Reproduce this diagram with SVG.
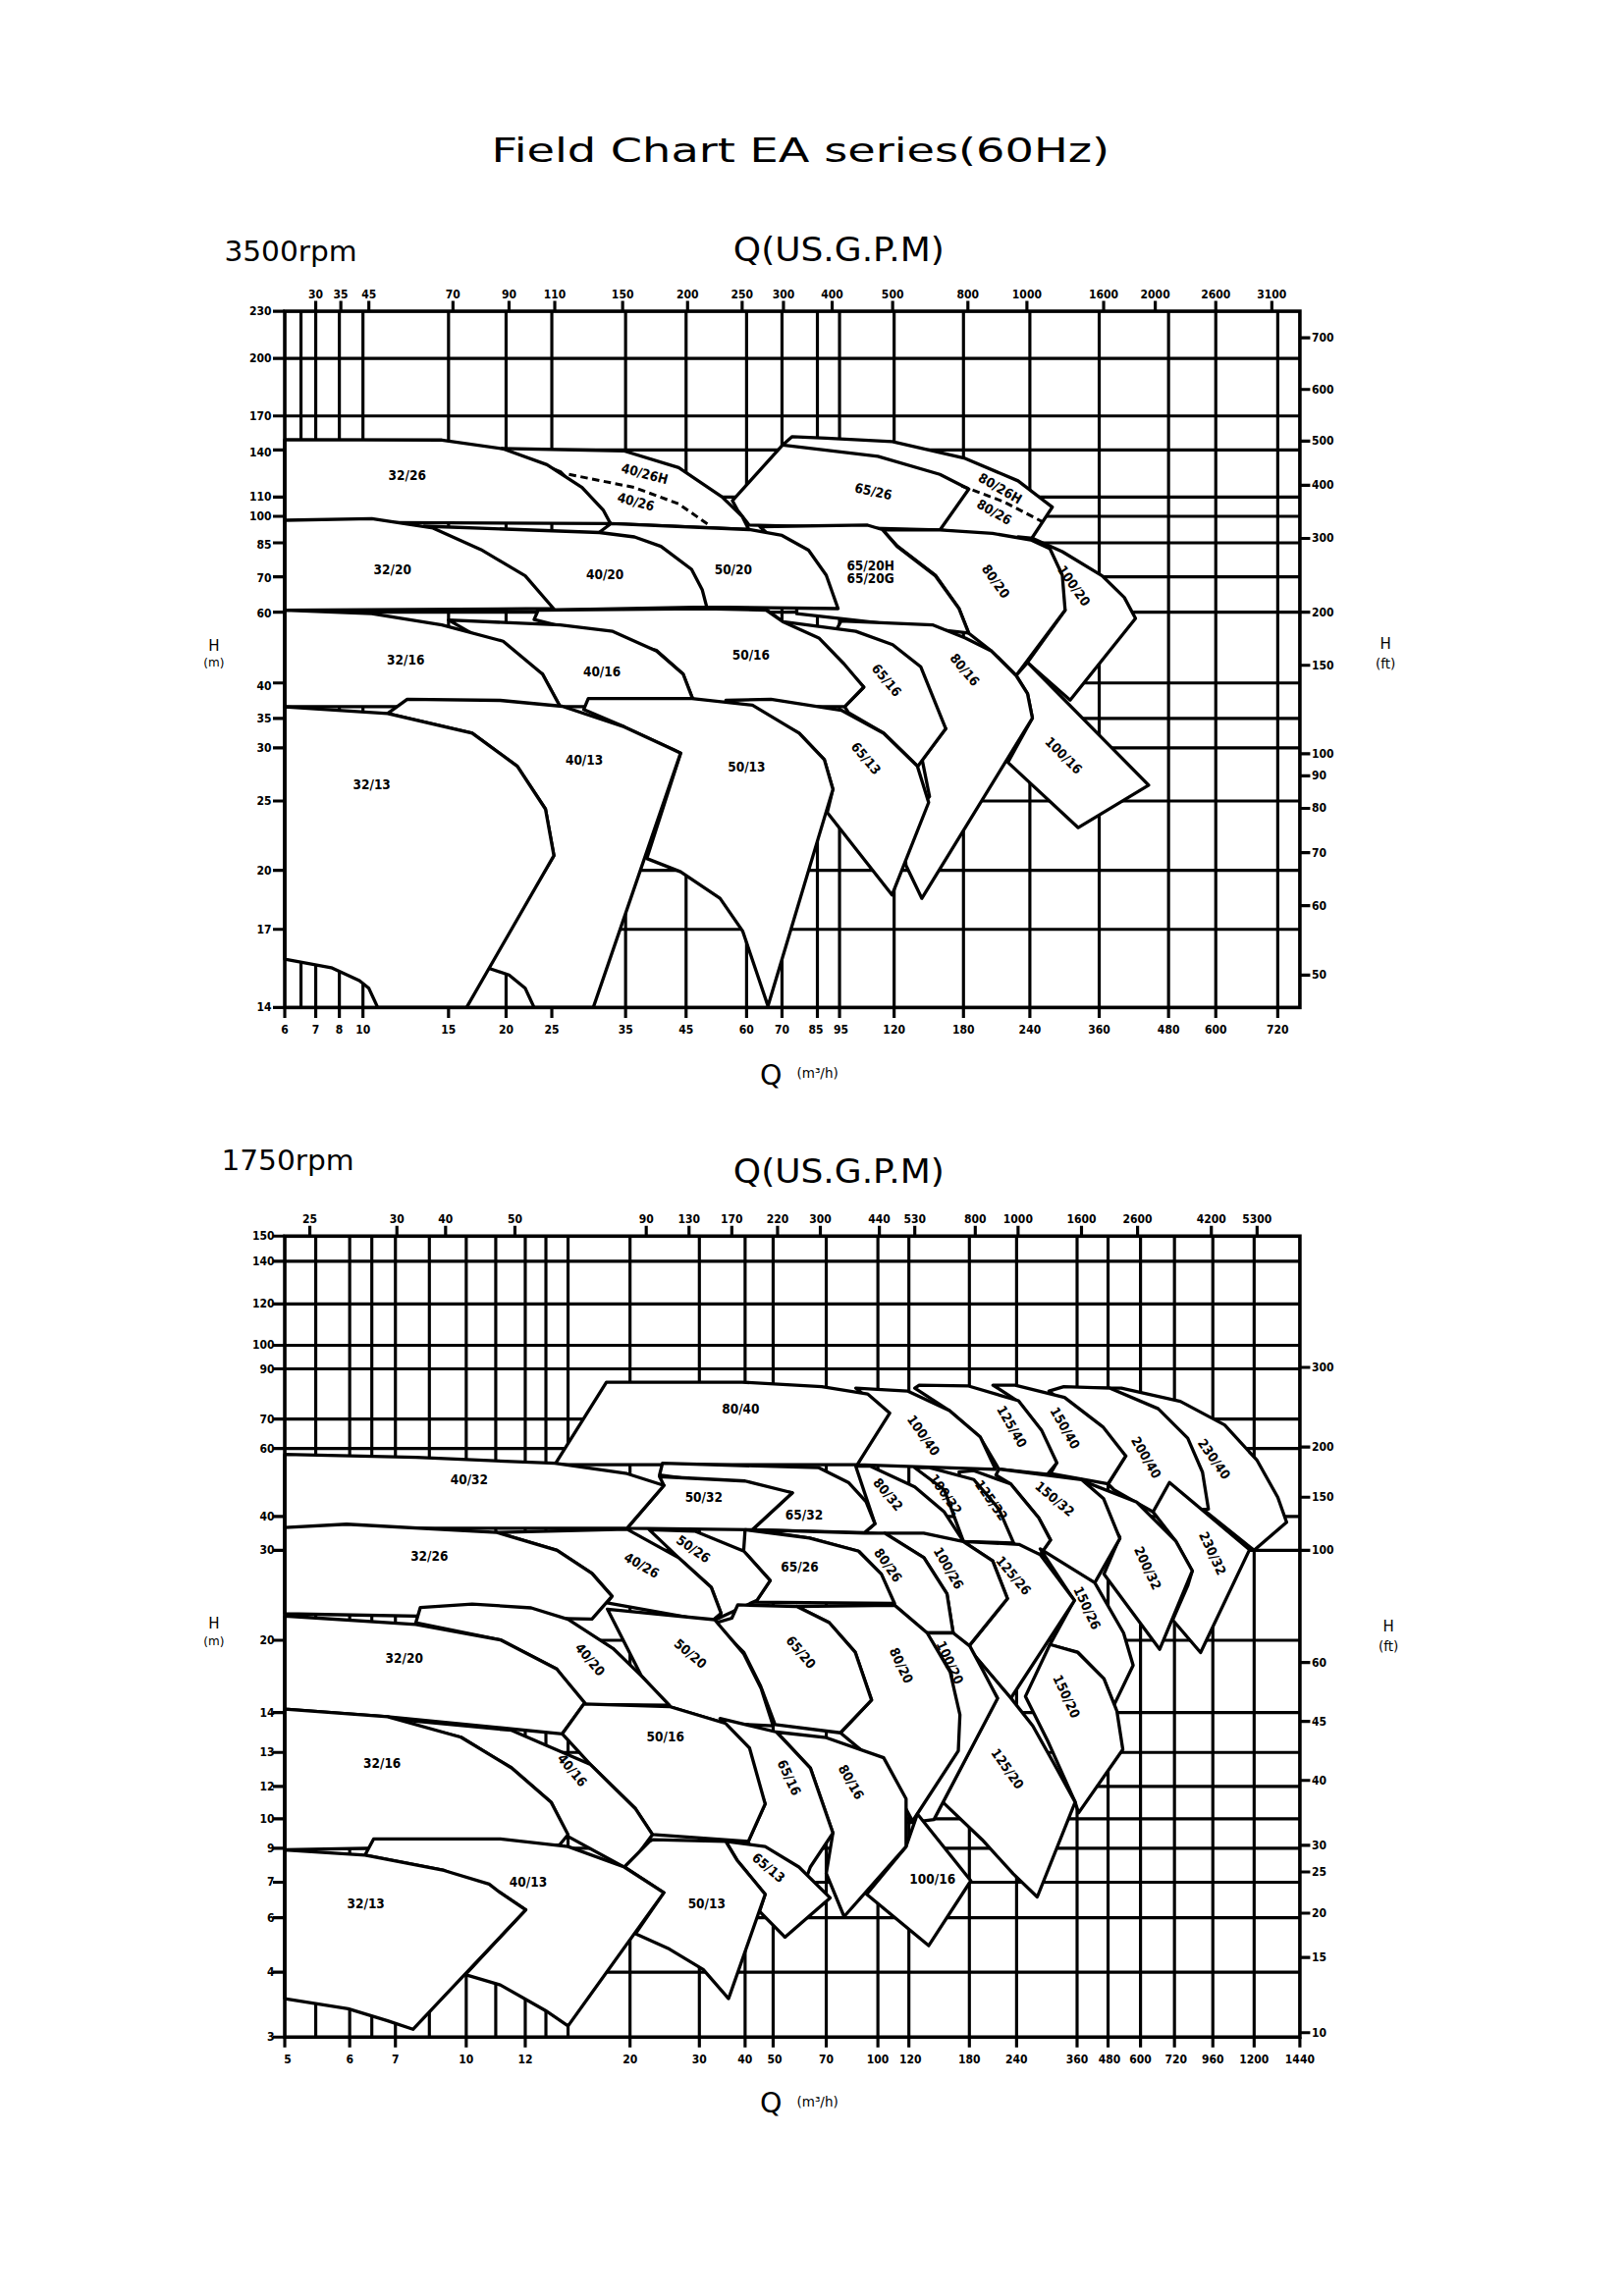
<svg xmlns="http://www.w3.org/2000/svg" width="1653" height="2339" viewBox="0 0 1653 2339">
<style>
.g{fill:none;stroke:#000;stroke-width:2.1}
.f{fill:none;stroke:#000;stroke-width:2.4}
.r{fill:#fff;stroke:#000;stroke-width:2.2;stroke-linejoin:round}
.l{fill:none;stroke:#000;stroke-width:2.2;stroke-linejoin:round}
.d{fill:none;stroke:#000;stroke-width:2;stroke-dasharray:5,3}
.lb{font-family:"DejaVu Sans Condensed","Liberation Sans Narrow","DejaVu Sans",sans-serif;font-weight:bold;font-size:9px;text-anchor:middle;dominant-baseline:central}
.tk{font-family:"DejaVu Sans Condensed","Liberation Sans Narrow","DejaVu Sans",sans-serif;font-weight:bold;font-size:8px;text-anchor:middle}
.tl{font-family:"DejaVu Sans Condensed","Liberation Sans Narrow","DejaVu Sans",sans-serif;font-weight:bold;font-size:8px;text-anchor:end;dominant-baseline:central}
.tr{font-family:"DejaVu Sans Condensed","Liberation Sans Narrow","DejaVu Sans",sans-serif;font-weight:bold;font-size:8px;text-anchor:start;dominant-baseline:central}
.h{font-family:"DejaVu Sans","Liberation Sans",sans-serif;font-weight:normal}
</style>
<rect width="1653" height="2339" fill="#fff"/>
<g transform="scale(1.50273)">
<text class="h" x="333" y="110" font-size="23" textLength="419" lengthAdjust="spacingAndGlyphs">Field Chart EA series(60Hz)</text>

<!-- ============ TOP CHART ============ -->
<g id="top-chart">
<text class="h" x="152" y="177" font-size="19" textLength="90" lengthAdjust="spacingAndGlyphs">3500rpm</text>
<text class="h" x="497" y="177" font-size="22" textLength="143" lengthAdjust="spacingAndGlyphs">Q(US.G.P.M)</text>
<text class="h" x="145" y="441" font-size="10" text-anchor="middle">H</text>
<text class="h" x="145" y="452" font-size="8" text-anchor="middle">(m)</text>
<text class="h" x="939" y="440" font-size="10" text-anchor="middle">H</text>
<text class="h" x="939" y="453" font-size="9" text-anchor="middle">(ft)</text>
<text class="h" x="515" y="735" font-size="19">Q</text>
<text class="h" x="540" y="731" font-size="9">(m³/h)</text>

<g id="top-grid">
<path class="g" d="M193,243H881M193,282H881M193,305H881M193,337H881M193,350H881M193,368H881M193,391H881M193,415H881M193,463H881M193,487H881M193,507H881M193,543H881M193,590H881M193,630H881"/>
<path class="g" d="M204,211V683M214,211V683M230,211V683M246,211V683M304,211V683M343,211V683M374,211V683M424,211V683M465,211V683M506,211V683M530,211V683M554,211V683M569,211V683M606,211V683M653,211V683M698,211V683M745,211V683M792,211V683M824,211V683M866,211V683"/>
<path class="g" d="M214,204V211M231,204V211M250,204V211M307,204V211M345,204V211M376,204V211M422,204V211M466,204V211M503,204V211M531,204V211M564,204V211M605,204V211M656,204V211M696,204V211M748,204V211M783,204V211M824,204V211M862,204V211"/>
<path class="g" d="M193,683V690M214,683V690M230,683V690M246,683V690M304,683V690M343,683V690M374,683V690M424,683V690M465,683V690M506,683V690M530,683V690M554,683V690M569,683V690M606,683V690M653,683V690M698,683V690M745,683V690M792,683V690M824,683V690M866,683V690"/>
<path class="g" d="M185,211H193M185,243H193M185,282H193M185,305H193M185,337H193M185,350H193M185,368H193M185,391H193M185,415H193M185,463H193M185,487H193M185,507H193M185,543H193M185,590H193M185,630H193M185,683H193"/>
<path class="g" d="M881,229H888M881,264H888M881,299H888M881,329H888M881,365H888M881,415H888M881,451H888M881,511H888M881,526H888M881,548H888M881,578H888M881,614H888M881,661H888"/>
</g>
<g id="top-axis-labels">
<text class="tk" x="214" y="202">30</text><text class="tk" x="231" y="202">35</text><text class="tk" x="250" y="202">45</text><text class="tk" x="307" y="202">70</text><text class="tk" x="345" y="202">90</text><text class="tk" x="376" y="202">110</text><text class="tk" x="422" y="202">150</text><text class="tk" x="466" y="202">200</text><text class="tk" x="503" y="202">250</text><text class="tk" x="531" y="202">300</text><text class="tk" x="564" y="202">400</text><text class="tk" x="605" y="202">500</text><text class="tk" x="656" y="202">800</text><text class="tk" x="696" y="202">1000</text><text class="tk" x="748" y="202">1600</text><text class="tk" x="783" y="202">2000</text><text class="tk" x="824" y="202">2600</text><text class="tk" x="862" y="202">3100</text>
<text class="tk" x="193" y="701">6</text><text class="tk" x="214" y="701">7</text><text class="tk" x="230" y="701">8</text><text class="tk" x="246" y="701">10</text><text class="tk" x="304" y="701">15</text><text class="tk" x="343" y="701">20</text><text class="tk" x="374" y="701">25</text><text class="tk" x="424" y="701">35</text><text class="tk" x="465" y="701">45</text><text class="tk" x="506" y="701">60</text><text class="tk" x="530" y="701">70</text><text class="tk" x="553" y="701">85</text><text class="tk" x="570" y="701">95</text><text class="tk" x="606" y="701">120</text><text class="tk" x="653" y="701">180</text><text class="tk" x="698" y="701">240</text><text class="tk" x="745" y="701">360</text><text class="tk" x="792" y="701">480</text><text class="tk" x="824" y="701">600</text><text class="tk" x="866" y="701">720</text>
<text class="tl" x="184" y="211">230</text><text class="tl" x="184" y="243">200</text><text class="tl" x="184" y="282">170</text><text class="tl" x="184" y="307">140</text><text class="tl" x="184" y="337">110</text><text class="tl" x="184" y="350">100</text><text class="tl" x="184" y="369">85</text><text class="tl" x="184" y="392">70</text><text class="tl" x="184" y="416">60</text><text class="tl" x="184" y="465">40</text><text class="tl" x="184" y="487">35</text><text class="tl" x="184" y="507">30</text><text class="tl" x="184" y="543">25</text><text class="tl" x="184" y="590">20</text><text class="tl" x="184" y="630">17</text><text class="tl" x="184" y="683">14</text>
<text class="tr" x="889" y="229">700</text><text class="tr" x="889" y="264">600</text><text class="tr" x="889" y="299">500</text><text class="tr" x="889" y="329">400</text><text class="tr" x="889" y="365">300</text><text class="tr" x="889" y="415">200</text><text class="tr" x="889" y="451">150</text><text class="tr" x="889" y="511">100</text><text class="tr" x="889" y="526">90</text><text class="tr" x="889" y="548">80</text><text class="tr" x="889" y="578">70</text><text class="tr" x="889" y="614">60</text><text class="tr" x="889" y="661">50</text>
</g>

<g id="t-80-65-26"><path class="r" d="M536.9,296 L560,297 L604.8,299.4 L653.3,310.5 L690,326 L713.2,343.8 L698.6,366 L637,359.3 L507.8,356 L500,346 L496.4,339.4 L530.4,301.7 Z"/>
<path class="l" d="M530.4,301.7 L595,309.4 L637,321.6 L656.6,331.6 L637,359.3"/><path class="d" d="M651.7,329.4 L680,340 L706.7,353.8"/></g>
<g id="t-40-26"><path class="r" d="M340,304 L422.7,305.6 L460,317 L489.5,337 L503,350 L507.5,359 L414,355 L380,320 Z"/><path class="d" d="M385.6,321.6 L430,330.5 L460,341.6 L480.6,356"/></g>
<g id="t-32-26"><path class="r" d="M193,298 L299.5,298.3 L341,304.3 L370.7,315 L394.5,330.5 L409,346 L413.8,355 L193,354 Z"/></g>

<g id="t-100-20"><path class="r" d="M690,364 L700,365 L720,374 L747,390.4 L762,405 L769.6,419.2 L725.3,474.6 L696.4,449.1 L721.9,413.6 Z"/></g>
<g id="t-80-20"><path class="r" d="M637,359.3 L672.7,361.6 L698.6,366 L711.6,372 L720,390 L721.9,413.6 L688.7,458 L672,441.4 L656.5,429.2 L650,412.6 L634,390 L608,370 L598,359 Z"/></g>
<g id="t-65-20"><path class="r" d="M515,357 L588,356 L598,359 L608,370.4 L634,390.4 L650,412.6 L656.5,429.2 L540,416 L540,380 Z"/></g>
<g id="t-50-20"><path class="r" d="M406,361 L414,355 L507.8,359 L530,363 L548,373 L560,390 L568,412.6 L479,411.5 L450,380 Z"/></g>
<g id="t-40-20"><path class="r" d="M287.5,356.7 L406.3,361 L430,364 L448,370.4 L468.7,386 L476,400 L479,411.5 L364.8,413.6 L330,380 Z"/></g>
<g id="t-32-20"><path class="r" d="M193,352.7 L252,351.6 L293.5,358 L326,372.6 L356,390.4 L375.2,412.6 L193,413.6 Z"/></g>

<g id="t-100-16"><path class="r" d="M696.4,449.1 L778.5,532.3 L730.8,561.1 L683.1,516.8 L699.7,486.8 L696.4,470.2 L688.7,458 Z"/></g>
<g id="t-80-16"><path class="r" d="M570,421 L632,423.6 L654.3,432.5 L672,441.4 L688.7,458 L696.4,470.2 L699.7,486.8 L624.8,609 L614,586.6 L612,560 L630,540 L625,515 L641,494 L600,460 L560,440 Z"/></g>
<g id="t-65-16"><path class="r" d="M519,413 L527,421 L580,428 L605,437 L624,452 L641,494 L622,519.5 L599,497 L575,483 L572.5,479 L585.4,465.8 L562.7,441 L530,421 Z"/></g>
<g id="t-50-16"><path class="r" d="M362,420 L364.8,413.6 L477.5,412.6 L519.3,413.6 L530.4,421.4 L555,432.5 L572,450 L585.4,465.8 L572.5,479 L471.5,479 L463,457 L445,441 Z"/></g>
<g id="t-40-16"><path class="r" d="M304,420.3 L379.6,423.7 L415.3,428 L445,441.4 L463,457 L471.5,479 L379.6,479 L367.7,457 Z"/></g>
<g id="t-32-16"><path class="r" d="M193,413.6 L252,416 L299.5,423.7 L341,434.7 L367.7,457 L379.6,479 L193,479 Z"/></g>

<g id="t-65-13"><path class="r" d="M492,474.8 L522.5,474 L570.2,481.5 L598.9,497.1 L621.8,519.5 L629.4,544 L604.6,606.7 L560.7,550.8 L564.5,535 L558.7,515 L541.6,497 L510,480 Z"/></g>
<g id="t-50-13"><path class="r" d="M395.6,481 L398.7,473.6 L469,473.6 L510,478 L541.6,497 L558.7,515 L564.5,535.1 L520.5,682 L503.4,631.3 L488,609 L461.3,591 L438.4,582 L461.3,510.5 L423,492.7 Z"/></g>
<g id="t-40-13"><path class="r" d="M262.7,483.7 L276,474 L339,474.8 L381,478.8 L423,492.7 L461.3,510.5 L402.1,683 L362,683 L356,670 L345,661 L330,656 L375.4,580 L369.7,548.5 L350.6,519.5 L320,497 Z"/></g>
<g id="t-32-13"><path class="r" d="M193,479.2 L262.7,483.7 L320,497 L350.6,519.5 L369.7,548.5 L375.4,580 L316.2,683 L256,683 L250,670 L243.6,664.8 L224.5,656 L193,650.3 Z"/></g>
<rect class="f" x="193" y="211" width="688" height="472"/>

<g id="top-labels">
<text class="lb" x="276" y="322">32/26</text>
<text class="lb" x="437" y="321" transform="rotate(15 437 321)">40/26H</text>
<text class="lb" x="431" y="340" transform="rotate(15 431 340)">40/26</text>
<text class="lb" x="592" y="333" transform="rotate(12 592 333)">65/26</text>
<text class="lb" x="678" y="331" transform="rotate(30 678 331)">80/26H</text>
<text class="lb" x="674" y="347" transform="rotate(30 674 347)">80/26</text>
<text class="lb" x="266" y="386">32/20</text>
<text class="lb" x="410" y="389">40/20</text>
<text class="lb" x="497" y="386">50/20</text>
<text class="lb" x="590" y="383">65/20H</text>
<text class="lb" x="590" y="392">65/20G</text>
<text class="lb" x="675" y="394" transform="rotate(55 675 394)">80/20</text>
<text class="lb" x="728" y="397" transform="rotate(55 728 397)">100/20</text>
<text class="lb" x="275" y="447">32/16</text>
<text class="lb" x="408" y="455">40/16</text>
<text class="lb" x="509" y="444">50/16</text>
<text class="lb" x="601" y="461" transform="rotate(50 601 461)">65/16</text>
<text class="lb" x="654" y="454" transform="rotate(50 654 454)">80/16</text>
<text class="lb" x="721" y="512" transform="rotate(45 721 512)">100/16</text>
<text class="lb" x="252" y="532">32/13</text>
<text class="lb" x="396" y="515">40/13</text>
<text class="lb" x="506" y="520">50/13</text>
<text class="lb" x="587" y="514" transform="rotate(50 587 514)">65/13</text>
</g>
</g>

<!-- ============ BOTTOM CHART ============ -->
<g id="bottom-chart">
<text class="h" x="150" y="793" font-size="19" textLength="90" lengthAdjust="spacingAndGlyphs">1750rpm</text>
<text class="h" x="497" y="802" font-size="22" textLength="143" lengthAdjust="spacingAndGlyphs">Q(US.G.P.M)</text>
<text class="h" x="145" y="1104" font-size="10" text-anchor="middle">H</text>
<text class="h" x="145" y="1115" font-size="8" text-anchor="middle">(m)</text>
<text class="h" x="941" y="1106" font-size="10" text-anchor="middle">H</text>
<text class="h" x="941" y="1119" font-size="9" text-anchor="middle">(ft)</text>
<text class="h" x="515" y="1432" font-size="19">Q</text>
<text class="h" x="540" y="1428" font-size="9">(m³/h)</text>

<g id="bottom-grid">
<path class="g" d="M193,855H881M193,884H881M193,912H881M193,928H881M193,962H881M193,982H881M193,1028H881M193,1051H881M193,1112H881M193,1161H881M193,1188H881M193,1211H881M193,1233H881M193,1253H881M193,1276H881M193,1300H881M193,1337H881"/>
<path class="g" d="M214,838V1381M237,838V1381M252,838V1381M268,838V1381M291,838V1381M316,838V1381M336,838V1381M356,838V1381M370,838V1381M385,838V1381M427,838V1381M474,838V1381M505,838V1381M524,838V1381M560,838V1381M595,838V1381M616,838V1381M657,838V1381M689,838V1381M730,838V1381M751,838V1381M773,838V1381M796,838V1381M822,838V1381M850,838V1381"/>
<path class="g" d="M210,831V838M269,831V838M302,831V838M349,831V838M438,831V838M467,831V838M496,831V838M527,831V838M556,831V838M596,831V838M620,831V838M661,831V838M690,831V838M733,831V838M771,831V838M821,831V838M852,831V838"/>
<path class="g" d="M193,1381V1388M237,1381V1388M268,1381V1388M316,1381V1388M356,1381V1388M427,1381V1388M474,1381V1388M505,1381V1388M524,1381V1388M560,1381V1388M595,1381V1388M616,1381V1388M657,1381V1388M689,1381V1388M730,1381V1388M751,1381V1388M773,1381V1388M796,1381V1388M822,1381V1388M850,1381V1388M881,1381V1388"/>
<path class="g" d="M185,838H193M185,855H193M185,884H193M185,912H193M185,928H193M185,962H193M185,982H193M185,1028H193M185,1051H193M185,1112H193M185,1161H193M185,1188H193M185,1211H193M185,1233H193M185,1253H193M185,1276H193M185,1300H193M185,1337H193M185,1381H193"/>
<path class="g" d="M881,927H888M881,981H888M881,1015H888M881,1051H888M881,1127H888M881,1167H888M881,1207H888M881,1251H888M881,1269H888M881,1297H888M881,1327H888M881,1378H888"/>
</g>
<g id="bottom-axis-labels">
<text class="tk" x="210" y="829">25</text><text class="tk" x="269" y="829">30</text><text class="tk" x="302" y="829">40</text><text class="tk" x="349" y="829">50</text><text class="tk" x="438" y="829">90</text><text class="tk" x="467" y="829">130</text><text class="tk" x="496" y="829">170</text><text class="tk" x="527" y="829">220</text><text class="tk" x="556" y="829">300</text><text class="tk" x="596" y="829">440</text><text class="tk" x="620" y="829">530</text><text class="tk" x="661" y="829">800</text><text class="tk" x="690" y="829">1000</text><text class="tk" x="733" y="829">1600</text><text class="tk" x="771" y="829">2600</text><text class="tk" x="821" y="829">4200</text><text class="tk" x="852" y="829">5300</text>
<text class="tk" x="195" y="1399">5</text><text class="tk" x="237" y="1399">6</text><text class="tk" x="268" y="1399">7</text><text class="tk" x="316" y="1399">10</text><text class="tk" x="356" y="1399">12</text><text class="tk" x="427" y="1399">20</text><text class="tk" x="474" y="1399">30</text><text class="tk" x="505" y="1399">40</text><text class="tk" x="525" y="1399">50</text><text class="tk" x="560" y="1399">70</text><text class="tk" x="595" y="1399">100</text><text class="tk" x="617" y="1399">120</text><text class="tk" x="657" y="1399">180</text><text class="tk" x="689" y="1399">240</text><text class="tk" x="730" y="1399">360</text><text class="tk" x="752" y="1399">480</text><text class="tk" x="773" y="1399">600</text><text class="tk" x="797" y="1399">720</text><text class="tk" x="822" y="1399">960</text><text class="tk" x="850" y="1399">1200</text><text class="tk" x="881" y="1399">1440</text>
<text class="tl" x="186" y="838">150</text><text class="tl" x="186" y="855">140</text><text class="tl" x="186" y="884">120</text><text class="tl" x="186" y="912">100</text><text class="tl" x="186" y="928">90</text><text class="tl" x="186" y="962">70</text><text class="tl" x="186" y="982">60</text><text class="tl" x="186" y="1028">40</text><text class="tl" x="186" y="1051">30</text><text class="tl" x="186" y="1112">20</text><text class="tl" x="186" y="1161">14</text><text class="tl" x="186" y="1188">13</text><text class="tl" x="186" y="1211">12</text><text class="tl" x="186" y="1233">10</text><text class="tl" x="186" y="1253">9</text><text class="tl" x="186" y="1276">7</text><text class="tl" x="186" y="1300">6</text><text class="tl" x="186" y="1337">4</text><text class="tl" x="186" y="1381">3</text>
<text class="tr" x="889" y="927">300</text><text class="tr" x="889" y="981">200</text><text class="tr" x="889" y="1015">150</text><text class="tr" x="889" y="1051">100</text><text class="tr" x="889" y="1127">60</text><text class="tr" x="889" y="1167">45</text><text class="tr" x="889" y="1207">40</text><text class="tr" x="889" y="1251">30</text><text class="tr" x="889" y="1269">25</text><text class="tr" x="889" y="1297">20</text><text class="tr" x="889" y="1327">15</text><text class="tr" x="889" y="1378">10</text>
</g>

<g id="b-230-40"><path class="r" d="M740,941 L760,941 L800,950 L830,966 L852,990 L866,1015 L872,1032 L850,1051 L792.6,1005 L760,990 Z"/></g>
<g id="b-200-40"><path class="r" d="M711,943 L721,940 L752,941 L785,955 L805,975 L815,998 L819,1023 L781.5,1025 L755,1010 L751,1006 L763,987 Z"/></g>
<g id="b-150-40"><path class="r" d="M673,939 L688,939 L721.5,947.4 L747.5,967.3 L763,987 L751,1006 L712,999 L716,992 L705,969 L690,950 Z"/></g>
<g id="b-125-40"><path class="r" d="M620,941 L623,939 L656.5,939.6 L690.3,949.6 L705.9,969.5 L716.3,991.7 L709.8,999.5 L677,996 L664,974 L643,956 Z"/></g>
<g id="b-100-40"><path class="r" d="M580,941 L615,943 L643.5,956.2 L664.3,974 L674.7,996.1 L581,993 L600,958 Z"/></g>
<g id="b-80-40"><path class="r" d="M411,937 L503,937 L557,940 L588,945 L603,958 L581,993 L376,993 Z"/></g>

<g id="b-230-32"><path class="r" d="M792.6,1005 L846.9,1050.5 L813.7,1120.3 L794.8,1098.2 L805,1075 L808,1065 L797,1045 L781.5,1025 Z"/></g>
<g id="b-200-32"><path class="r" d="M733.8,1003.9 L770.4,1018.3 L797,1044.9 L808.1,1064.9 L786,1118.1 L748.2,1067.1 L759,1042 Z"/></g>
<g id="b-150-32"><path class="r" d="M675,1000 L677,996 L733,1003 L748,1016 L759,1043 L742,1073 L705,1054 L712,1044 L704,1029 L685,1006 Z"/></g>
<g id="b-125-32"><path class="r" d="M650,998 L660,997 L685,1006 L704,1029 L712,1044 L705,1054 L688,1047 L660,1045 Z"/></g>
<g id="b-100-32"><path class="r" d="M620,995 L630,995 L660,1003 L677,1023 L687,1046 L653,1045 L640,1010 Z"/></g>
<g id="b-80-32"><path class="r" d="M580,994 L590,994 L620,1008 L640,1025 L653,1045 L586,1039 L593,1033 Z"/></g>
<g id="b-65-32"><path class="r" d="M447,1000 L449,992 L555,995 L575,1005 L587,1018 L593,1033 L586,1039 L510,1037 L537,1012 Z"/></g>
<g id="b-50-32"><path class="r" d="M447,1001 L505,1004 L537,1012 L510,1037 L425,1036 L450,1007 Z"/></g>
<g id="b-40-32"><path class="r" d="M193,986 L282,988 L376,992 L425,999 L450,1007 L425,1036 L193,1036 Z"/></g>

<g id="b-150-26"><path class="r" d="M705,1050 L742,1073 L761.5,1107 L768,1129 L755,1156 L748,1138 L730.5,1120 L711.6,1115 L728,1085 Z"/></g>
<g id="b-125-26"><path class="r" d="M652.8,1045 L690.6,1047 L705,1054 L728.3,1085 L685,1151.4 L656,1117 L682.8,1083.7 L672.8,1058.2 Z"/></g>
<g id="b-100-26"><path class="r" d="M599.6,1039.4 L626,1039.4 L652.8,1045 L672.8,1058.2 L682.8,1083.7 L655,1118 L646,1107 L641.8,1080.4 L626.2,1056 Z"/></g>
<g id="b-80-26"><path class="r" d="M510,1037 L586,1039.4 L599.6,1039.4 L626.2,1056 L641.8,1080.4 L646,1107 L628,1107 L606,1088 L597,1067 L582,1051.6 L548.6,1042.7 Z"/></g>
<g id="b-65-26"><path class="r" d="M505,1037 L548.6,1042.7 L581.9,1051.6 L597.4,1067.1 L606.3,1087 L502,1086 L513,1084.8 L522,1071.5 L504,1051.6 Z"/></g>
<g id="b-50-26"><path class="r" d="M440,1037 L470.9,1038 L504.2,1051.6 L522,1071.5 L513.1,1084.8 L485,1098 L488.7,1093.7 L482,1076 L459.9,1056 Z"/></g>
<g id="b-40-26"><path class="r" d="M336.7,1038.9 L425,1036.7 L459.9,1056 L482,1076 L488.7,1093.7 L482,1099.3 L411.4,1086.6 L414.8,1082.1 L401.2,1066.6 L377.5,1051 Z"/></g>
<g id="b-32-26"><path class="r" d="M193,1035.5 L234.9,1033.3 L336.7,1038.9 L377.5,1051 L401.2,1066.6 L414.8,1082.1 L401.2,1097.6 L193,1094 Z"/></g>

<g id="b-150-20"><path class="r" d="M711.6,1114.8 L730.5,1120.3 L748.2,1138 L757,1160 L761,1186 L731,1229 L728.7,1221.7 L710,1180 L695,1150 Z"/></g>
<g id="b-125-20"><path class="r" d="M656,1117 L685,1151 L700,1170 L714,1195 L728.7,1221.7 L703,1286 L686.7,1270.3 L665.7,1247.2 L639,1221.7 L676,1151 Z"/></g>
<g id="b-100-20"><path class="r" d="M646,1107 L657.3,1115.9 L666,1132 L676.1,1151.4 L633,1233.5 L616,1235.6 L646.6,1190.4 L644.7,1133.7 L628,1107 Z"/></g>
<g id="b-80-20"><path class="r" d="M540,1089 L606.3,1088.2 L628.4,1107 L644,1133.6 L650.6,1162.5 L649.5,1186.9 L618.5,1234.6 L600,1200 L569.6,1174.7 L590.7,1152.5 L579.6,1120 L562,1100 Z"/></g>
<g id="b-65-20"><path class="r" d="M496,1097 L500,1088 L540,1089 L562,1100 L579.6,1120 L590.7,1152.5 L569.6,1174.7 L525.3,1169.1 L515.3,1142.5 L504.2,1120.3 L484.3,1100.4 Z"/></g>
<g id="b-50-20"><path class="r" d="M411.7,1090.9 L484.3,1098 L504,1121 L516,1145 L524,1170 L491.9,1168.4 L453.7,1156.9 L434.6,1136 Z"/></g>
<g id="b-40-20"><path class="r" d="M281.8,1100.1 L284.9,1089.7 L320,1087.4 L360,1090 L385,1097.8 L415.5,1117.5 L434.6,1136 L453.7,1156 L395.6,1155.5 L377.3,1131.4 L339.1,1111.7 Z"/></g>
<g id="b-32-20"><path class="r" d="M193,1095.5 L281.8,1101.3 L339.1,1111.7 L377.3,1131.4 L396.4,1154.5 L381.1,1175.4 L262.7,1163.8 L193,1158.7 Z"/></g>

<g id="b-100-16"><path class="r" d="M621.8,1229.8 L658,1275 L629.4,1319 L587.4,1284.2 L614,1252 Z"/></g>
<g id="b-80-16"><path class="r" d="M526.3,1174.2 L560,1178 L598.9,1191.6 L614.1,1219.4 L614.1,1251.8 L572.1,1299.3 L560,1270 L564.5,1242.6 L549.2,1198.5 Z"/></g>
<g id="b-65-16"><path class="r" d="M488,1165 L526.3,1174.2 L549.2,1198.5 L564.5,1242.6 L549.2,1265.7 L532,1313 L518,1290 L507.2,1248.3 L518.6,1222.9 L505,1185 Z"/></g>
<g id="b-50-16"><path class="r" d="M381.1,1175.4 L395.6,1155.2 L453.7,1156.9 L491.9,1168.4 L508,1185 L518.6,1222.9 L507.2,1248.3 L442.2,1243.7 L430.8,1226.3 L400.2,1196.2 Z"/></g>
<g id="b-40-16"><path class="r" d="M262.7,1165 L274.2,1166.1 L346.7,1173 L400.2,1196.2 L430.8,1226.3 L442.2,1243.7 L425,1266.9 L385,1245 L373.5,1221.7 L346.7,1198.5 L312.4,1177.7 Z"/></g>
<g id="b-32-16"><path class="r" d="M193,1158.7 L262.7,1163.8 L312.4,1177.7 L346.7,1198.5 L373.5,1221.7 L385,1243.7 L379.2,1250.7 L193,1254 Z"/></g>

<g id="b-65-13"><path class="r" d="M491.9,1248.3 L518.6,1251.8 L541.5,1265.7 L562.6,1286.6 L532,1313.2 L514.8,1295.8 L518.6,1284.2 L499.5,1261 Z"/></g>
<g id="b-50-13"><path class="r" d="M440.3,1248.3 L442.2,1247.2 L491.9,1248.3 L499.5,1261 L518.6,1284.2 L493.8,1354.9 L476.6,1335.2 L453.7,1321.3 L430.8,1310.9 L449.9,1283.1 L423.1,1265.7 Z"/></g>
<g id="b-40-13"><path class="r" d="M247.4,1257.6 L253.2,1246.7 L339.1,1246.7 L385,1251.8 L423.1,1265.7 L449.9,1283.1 L385,1373.4 L369.7,1363 L339.1,1345.6 L315.4,1338.7 L356.3,1294.7 L339.1,1283.1 L300.9,1268 Z"/></g>
<g id="b-32-13"><path class="r" d="M193,1254.1 L247.4,1257.6 L300.9,1268 L331.5,1277.3 L339.1,1283.1 L356.3,1294.7 L279.9,1375.7 L262.7,1369.9 L236,1361.8 L193,1354.9 Z"/></g>
<rect class="f" x="193" y="838" width="688" height="543"/>

<g id="bottom-labels">
<text class="lb" x="502" y="955">80/40</text>
<text class="lb" x="626" y="973" transform="rotate(55 626 973)">100/40</text>
<text class="lb" x="686" y="967" transform="rotate(60 686 967)">125/40</text>
<text class="lb" x="722" y="968" transform="rotate(60 722 968)">150/40</text>
<text class="lb" x="777" y="988" transform="rotate(60 777 988)">200/40</text>
<text class="lb" x="823" y="989" transform="rotate(55 823 989)">230/40</text>
<text class="lb" x="318" y="1003">40/32</text>
<text class="lb" x="477" y="1015">50/32</text>
<text class="lb" x="545" y="1027">65/32</text>
<text class="lb" x="602" y="1013" transform="rotate(50 602 1013)">80/32</text>
<text class="lb" x="641" y="1013" transform="rotate(55 641 1013)">100/32</text>
<text class="lb" x="672" y="1017" transform="rotate(55 672 1017)">125/32</text>
<text class="lb" x="715" y="1016" transform="rotate(40 715 1016)">150/32</text>
<text class="lb" x="778" y="1063" transform="rotate(65 778 1063)">200/32</text>
<text class="lb" x="822" y="1053" transform="rotate(65 822 1053)">230/32</text>
<text class="lb" x="291" y="1055">32/26</text>
<text class="lb" x="435" y="1061" transform="rotate(30 435 1061)">40/26</text>
<text class="lb" x="470" y="1050" transform="rotate(35 470 1050)">50/26</text>
<text class="lb" x="542" y="1062">65/26</text>
<text class="lb" x="602" y="1061" transform="rotate(55 602 1061)">80/26</text>
<text class="lb" x="643" y="1063" transform="rotate(60 643 1063)">100/26</text>
<text class="lb" x="687" y="1068" transform="rotate(50 687 1068)">125/26</text>
<text class="lb" x="737" y="1090" transform="rotate(65 737 1090)">150/26</text>
<text class="lb" x="274" y="1124">32/20</text>
<text class="lb" x="400" y="1125" transform="rotate(50 400 1125)">40/20</text>
<text class="lb" x="468" y="1121" transform="rotate(40 468 1121)">50/20</text>
<text class="lb" x="543" y="1120" transform="rotate(50 543 1120)">65/20</text>
<text class="lb" x="611" y="1129" transform="rotate(65 611 1129)">80/20</text>
<text class="lb" x="644" y="1127" transform="rotate(65 644 1127)">100/20</text>
<text class="lb" x="683" y="1199" transform="rotate(55 683 1199)">125/20</text>
<text class="lb" x="723" y="1150" transform="rotate(65 723 1150)">150/20</text>
<text class="lb" x="259" y="1195">32/16</text>
<text class="lb" x="388" y="1200" transform="rotate(50 388 1200)">40/16</text>
<text class="lb" x="451" y="1177">50/16</text>
<text class="lb" x="535" y="1205" transform="rotate(65 535 1205)">65/16</text>
<text class="lb" x="577" y="1208" transform="rotate(60 577 1208)">80/16</text>
<text class="lb" x="632" y="1274">100/16</text>
<text class="lb" x="248" y="1290">32/13</text>
<text class="lb" x="358" y="1276">40/13</text>
<text class="lb" x="479" y="1290">50/13</text>
<text class="lb" x="521" y="1266" transform="rotate(40 521 1266)">65/13</text>
</g>
</g>
</g>
</svg>
